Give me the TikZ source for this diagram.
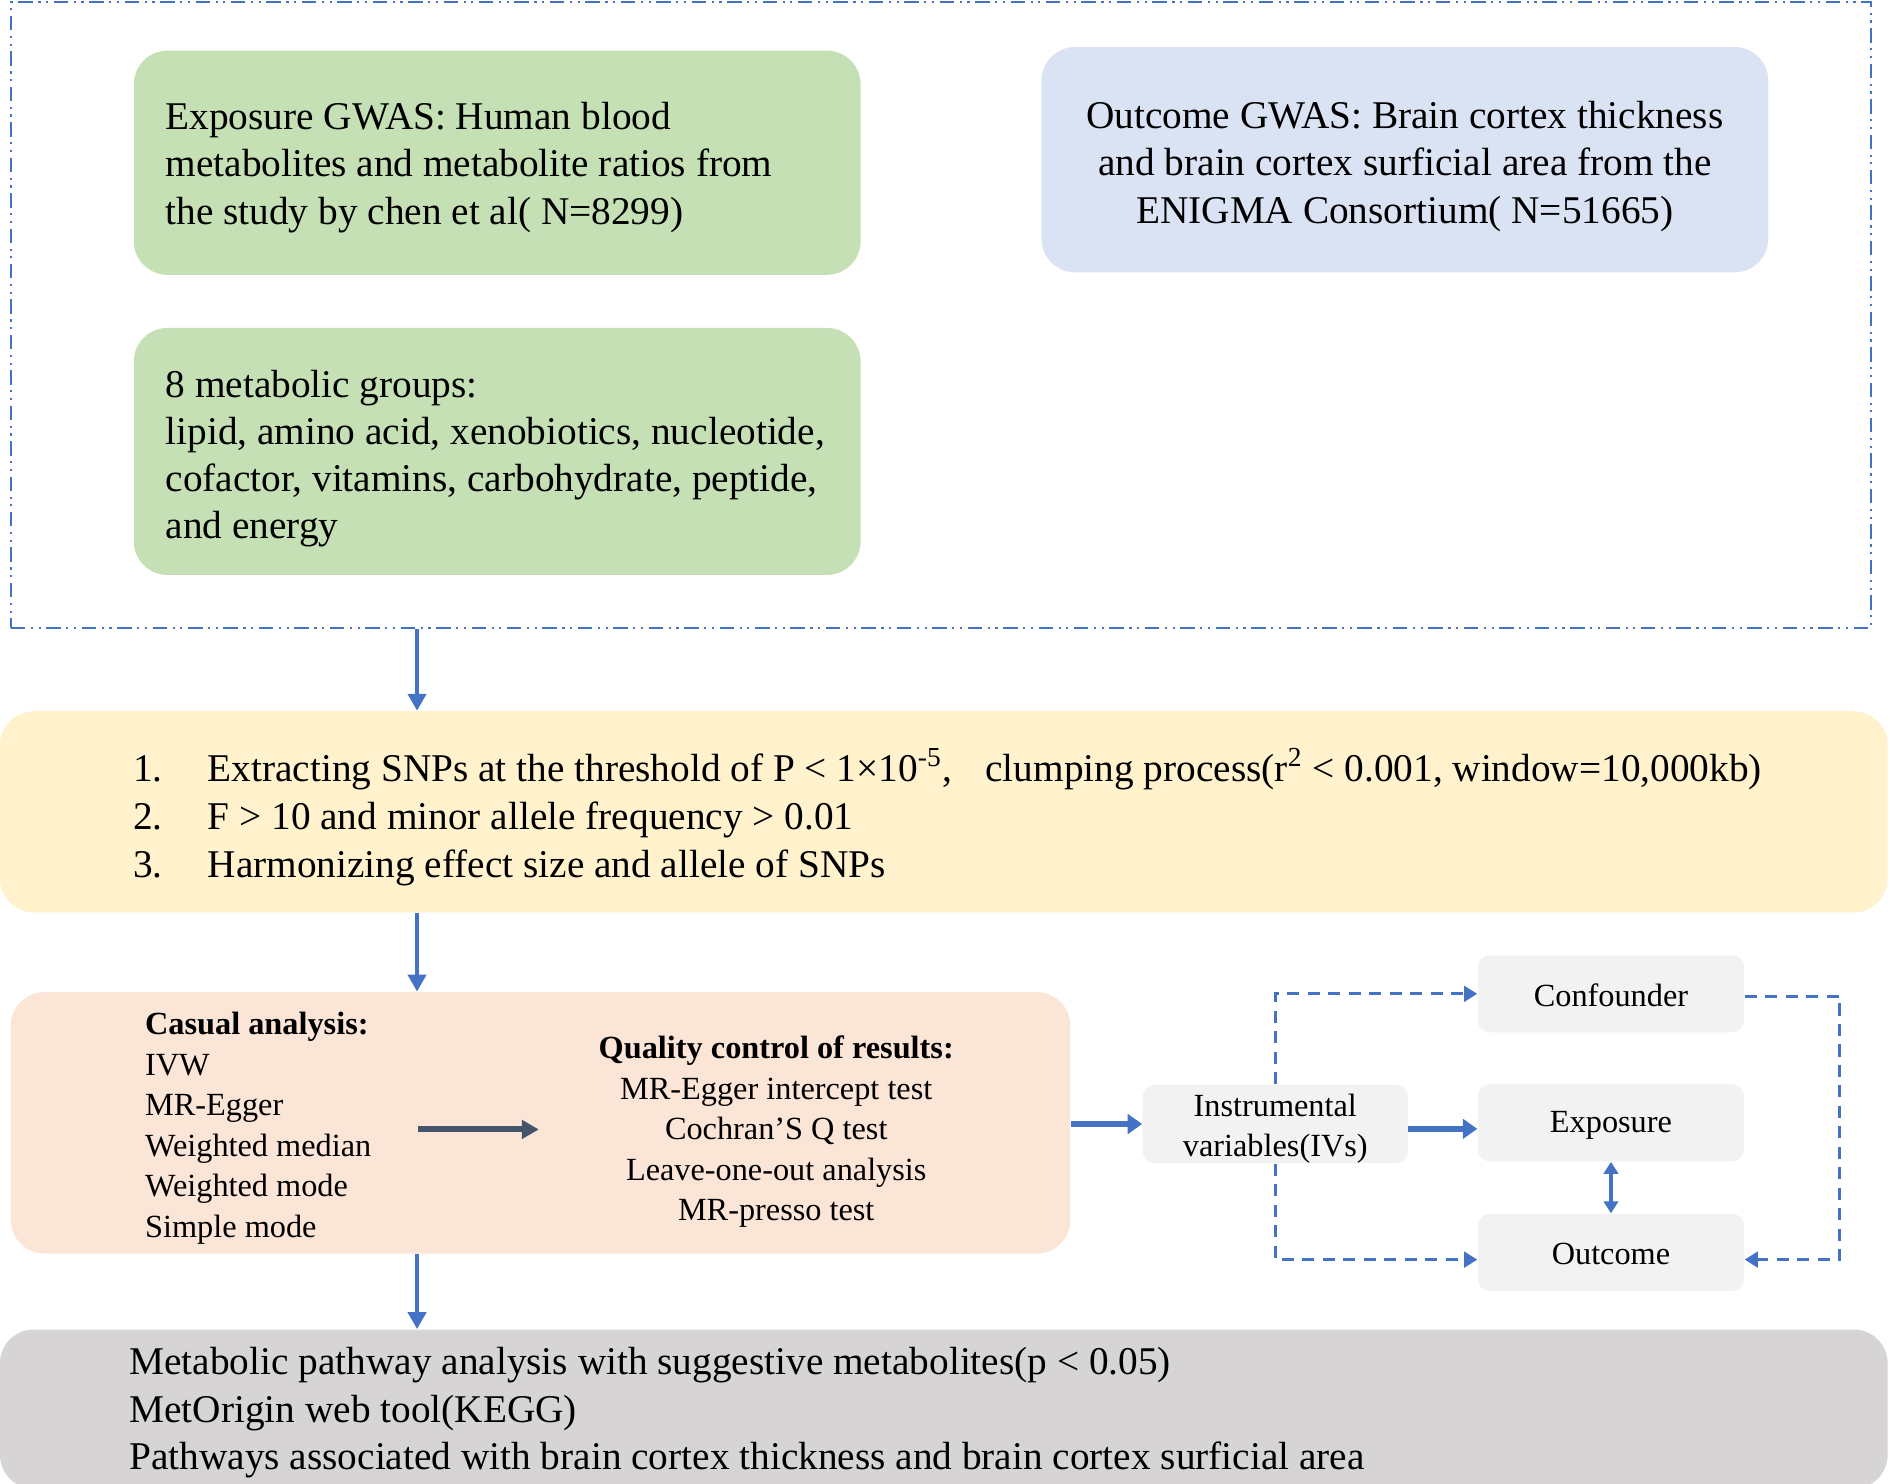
\documentclass[tikz,border=0pt]{standalone}
\usepackage{fontspec}
\setmainfont{Liberation Serif}
\usetikzlibrary{arrows.meta,calc}
\definecolor{cgreen}{HTML}{C5E0B4}
\definecolor{cblue}{HTML}{DAE3F3}
\definecolor{cyellow}{HTML}{FFF2CC}
\definecolor{cpeach}{HTML}{FBE5D6}
\definecolor{cgray}{HTML}{D6D4D5}
\definecolor{clight}{HTML}{F2F2F2}
\definecolor{cline}{HTML}{4472C4}
\definecolor{cdark}{HTML}{44546A}
\begin{document}
\begin{tikzpicture}[x=0.5pt,y=-0.5pt,
  box/.style={rectangle, rounded corners=14pt, draw=none, inner sep=0pt},
  smallbox/.style={rectangle, rounded corners=5pt, draw=none, fill=clight, inner sep=0pt, minimum width=110.5pt, minimum height=32pt},
  big/.style={font=\fontsize{16.3}{19.6}\selectfont, inner sep=0pt},
  small/.style={font=\fontsize{13.4}{16.8}\selectfont, inner sep=0pt},
  varr/.style={draw=cline, line width=1.6pt, -{Triangle[length=7pt,width=7.5pt]}},
  tarr/.style={draw=cline, line width=2.3pt, -{Triangle[length=6pt,width=8pt]}},
  darr/.style={draw=cdark, line width=2.5pt, -{Triangle[length=7pt,width=7.5pt]}},
  dasharr/.style={draw=cline, line width=1.3pt, dash pattern=on 5pt off 3.5pt, -{Triangle[length=5.5pt,width=6.5pt]}},
  dbl/.style={draw=cline, line width=1.3pt, {Triangle[length=5pt,width=6pt]}-{Triangle[length=5pt,width=6pt]}}
]
\useasboundingbox (0,0) rectangle (1568,1231);

% frame
\node[draw=cline, line width=0.8pt, dash pattern=on 6pt off 2.3pt on 0.9pt off 2.3pt on 0.9pt off 2.3pt,
      minimum width=771.5pt, minimum height=259.5pt, inner sep=0pt] (frame) at (780.5,261.5) {};

% top boxes
\node[box, fill=cgreen, minimum width=301.5pt, minimum height=93pt] (g1) at (412.5,135) {};
\node[big, align=left, anchor=west] (g1t) at (137,139)
  {Exposure GWAS: Human blood\\metabolites and metabolite ratios from\\the study by chen et al( N=8299)};

\node[box, fill=cblue, minimum width=301.5pt, minimum height=93.5pt] (b1) at (1165.5,132.5) {};
\node[big, align=center, font=\fontsize{16.3}{19.8}\selectfont] (b1t) at (1165.5,138)
  {Outcome GWAS: Brain cortex thickness\\and brain cortex surficial area from the\\ENIGMA Consortium( N=51665)};

\node[box, fill=cgreen, minimum width=301.5pt, minimum height=102.5pt] (g2) at (412.5,374.5) {};
\node[big, align=left, anchor=west] (g2t) at (137,380.5)
  {8 metabolic groups:\\lipid, amino acid, xenobiotics, nucleotide,\\cofactor, vitamins, carbohydrate, peptide,\\and energy};

% yellow
\node[box, fill=cyellow, minimum width=783pt, minimum height=83.5pt] (yel) at (783,673.5) {};
\node[big, align=left, anchor=west, font=\fontsize{16.3}{20}\selectfont] (yelt) at (110,678)
  {\makebox[31pt][l]{1.}Extracting SNPs at the threshold of P < 1×10\textsuperscript{-5},\hspace{14pt}clumping process(r\textsuperscript{2} < 0.001, window=10,000kb)\\
   \makebox[31pt][l]{2.}F > 10 and minor allele frequency > 0.01\\
   \makebox[31pt][l]{3.}Harmonizing effect size and allele of SNPs};

% peach
\node[box, fill=cpeach, minimum width=439.5pt, minimum height=108.5pt] (pea) at (448.5,931.5) {};
\node[small, align=left, anchor=west] (cas) at (120,936)
  {\textbf{Casual analysis:}\\IVW\\MR-Egger\\Weighted median\\Weighted mode\\Simple mode};
\node[small, align=center] (qc) at (644,939)
  {\textbf{Quality control of results:}\\MR-Egger intercept test\\Cochran’S Q test\\Leave-one-out analysis\\MR-presso test};
\coordinate (d1) at (347,937);
\coordinate (d2) at (447,937);
\draw[darr] (d1) -- (d2);

% IV diagram
\node[smallbox, minimum width=110pt, minimum height=32.5pt] (iv) at (1058,932.5) {};
\node[small, align=center] (ivt) at (1058,936.5) {Instrumental\\variables(IVs)};
\node[smallbox] (conf) at (1336.5,824.5) {};
\node[small] (conft) at (1336.5,826) {Confounder};
\node[smallbox] (expo) at (1336.5,931.5) {};
\node[small] (expot) at (1336.5,934) {Exposure};
\node[smallbox] (outc) at (1336.5,1039) {};
\node[small] (outct) at (1336.5,1040.5) {Outcome};

\draw[tarr] (pea.east |- iv.west) -- (iv.west);
\draw[tarr] ([yshift=-2pt]iv.east) -- ([yshift=-2pt]expo.west |- iv.east);
\draw[dbl] (expo.south) -- (outc.north);
\draw[dasharr] (iv.north) |- (conf.west);
\draw[dasharr] (iv.south) |- ([yshift=-3pt]outc.west);
\draw[dasharr] ([yshift=-1pt]conf.east) -- ++(39.5pt,0) |- ([yshift=-3pt]outc.east);

% gray
\node[box, fill=cgray, minimum width=783pt, minimum height=66pt] (gry) at (783,1169) {};
\node[big, align=left, anchor=west, font=\fontsize{16.3}{19.8}\selectfont] (gryt) at (107,1172)
  {Metabolic pathway analysis with suggestive metabolites(p < 0.05)\\MetOrigin web tool(KEGG)\\Pathways associated with brain cortex thickness and brain cortex surficial area};

% vertical arrows
\coordinate (ax) at (346,0);
\draw[varr] (ax |- frame.south) -- (ax |- yel.north);
\draw[varr] (ax |- yel.south) -- (ax |- pea.north);
\draw[varr] (ax |- pea.south) -- (ax |- gry.north);
\end{tikzpicture}
\end{document}
